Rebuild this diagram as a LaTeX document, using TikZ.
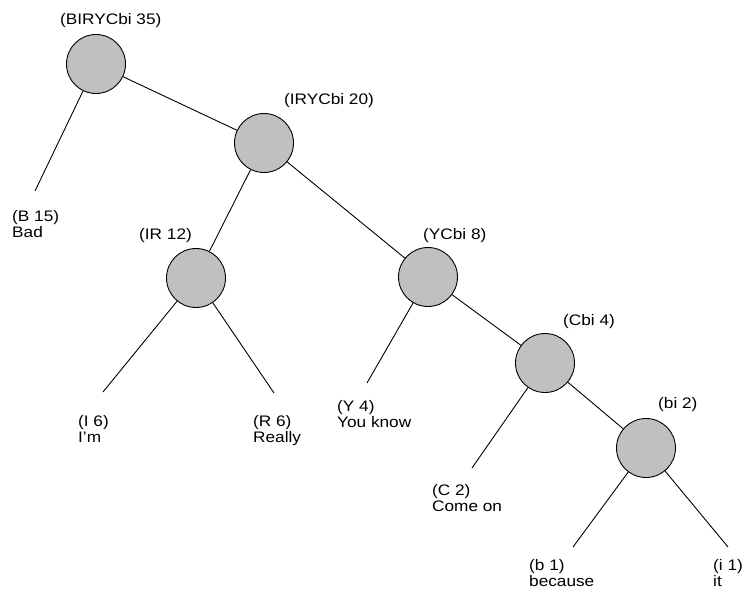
\documentclass[tikz,border=0pt]{standalone}
\usepackage{fontspec}
\setmainfont{Liberation Sans}[FakeStretch=1.13]
\definecolor{nodegray}{HTML}{C0C0C0}
\tikzset{
  inode/.style={circle, draw=black, fill=nodegray, line width=0.9bp, minimum size=59bp, inner sep=0pt},
  lbl/.style={anchor=base west, inner sep=0pt, align=left, font=\fontsize{15.3}{16.5}\selectfont},
  edge/.style={draw=black, line width=0.9bp}
}
\begin{document}
\begin{tikzpicture}[x=1bp,y=-1bp]
\useasboundingbox[fill=white] (0,0) rectangle (745,595);
% internal nodes
\node[inode] (n35) at (96,64) {};
\node[inode] (n20) at (264,143) {};
\node[inode] (n12) at (196,278) {};
\node[inode] (n8)  at (428,277) {};
\node[inode] (n4)  at (545,363) {};
\node[inode] (n2)  at (646,448) {};
% internal labels
\node[lbl] (t35) at (60,25)  {(BIRYCbi 35)};
\node[lbl] (t20) at (284,105) {(IRYCbi 20)};
\node[lbl] (t12) at (139,239) {(IR 12)};
\node[lbl] (t8)  at (423,239) {(YCbi 8)};
\node[lbl] (t4)  at (563,325) {(Cbi 4)};
\node[lbl] (t2)  at (658,408) {(bi 2)};
% leaves (anchor at baseline of second line)
\coordinate (eB) at (35,191);
\coordinate (eI) at (103,392);
\coordinate (eR) at (274,393);
\coordinate (eY) at (367,383);
\coordinate (eC) at (472,468);
\coordinate (eb) at (573,547);
\coordinate (ei) at (728,547);
\node[lbl] (lB) at (12,237.5)  {(B 15)\\Bad};
\node[lbl] (lI) at (78,442.5)  {(I 6)\\I'm};
\node[lbl] (lR) at (253,442.5) {(R 6)\\Really};
\node[lbl] (lY) at (337,427.5) {(Y 4)\\You know};
\node[lbl] (lC) at (432,511.5) {(C 2)\\Come on};
\node[lbl] (lb) at (529,586.5) {(b 1)\\because};
\node[lbl] (li) at (713,586.5) {(i 1)\\it};
% edges
\draw[edge] (n35) -- (n20);
\draw[edge] (n35) -- (eB);
\draw[edge] (n20) -- (n12);
\draw[edge] (n20) -- (n8);
\draw[edge] (n12) -- (eI);
\draw[edge] (n12) -- (eR);
\draw[edge] (n8) -- (eY);
\draw[edge] (n8) -- (n4);
\draw[edge] (n4) -- (eC);
\draw[edge] (n4) -- (n2);
\draw[edge] (n2) -- (eb);
\draw[edge] (n2) -- (ei);
\end{tikzpicture}
\end{document}
